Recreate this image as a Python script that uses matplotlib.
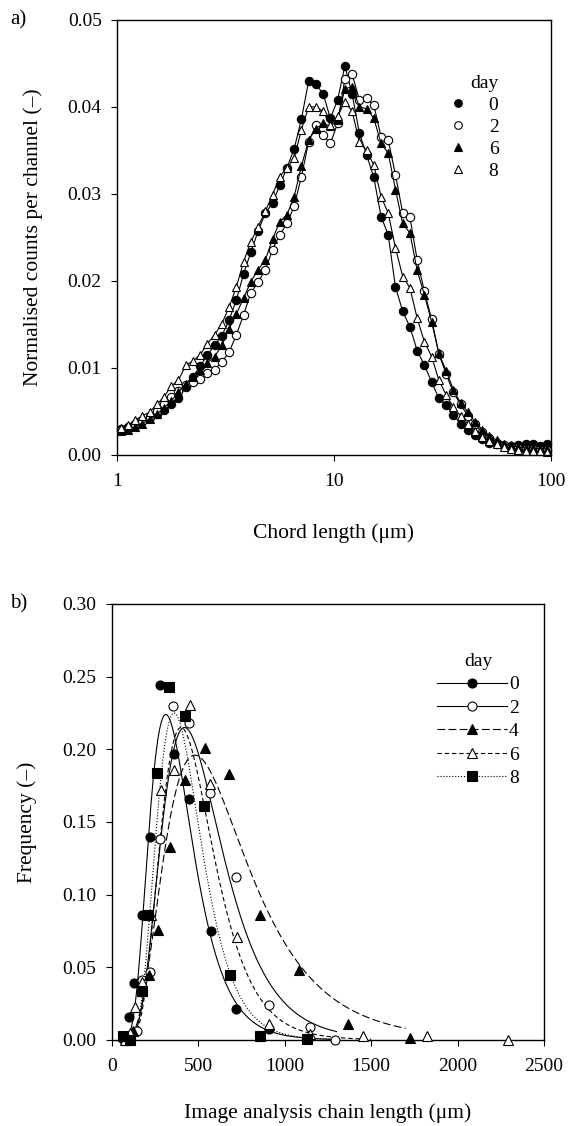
import numpy as np
import matplotlib
matplotlib.use("Agg")
import matplotlib.pyplot as plt
from matplotlib.lines import Line2D
from matplotlib.ticker import FixedLocator, FormatStrFormatter, NullLocator

plt.rcParams['font.family'] = ['Liberation Serif', 'DejaVu Serif']

# ---- panel a: FBRM chord length distributions ----
chord = [1.039, 1.122, 1.212, 1.309, 1.413, 1.526, 1.648, 1.778, 1.920, 2.074,
         2.239, 2.418, 2.610, 2.818, 3.043, 3.286, 3.548, 3.831, 4.137, 4.467,
         4.823, 5.208, 5.623, 6.072, 6.556, 7.079, 7.644, 8.254, 8.913, 9.624,
         10.39, 11.22, 12.12, 13.09, 14.13, 15.26, 16.48, 17.78, 19.20, 20.74,
         22.39, 24.18, 26.10, 28.18, 30.43, 32.86, 35.48, 38.31, 41.37, 44.67,
         48.23, 52.08, 56.23, 60.72, 65.56, 70.79, 76.44, 82.54, 89.13, 96.24]

day0_a = [0.0030, 0.0032, 0.0035, 0.0039, 0.0043, 0.0047, 0.0052, 0.0058, 0.0065, 0.0078,
          0.0090, 0.0102, 0.0115, 0.0126, 0.0137, 0.0155, 0.0178, 0.0208, 0.0233, 0.0257,
          0.0278, 0.0289, 0.0310, 0.0330, 0.0352, 0.0386, 0.0430, 0.0426, 0.0415, 0.0387,
          0.0408, 0.0447, 0.0415, 0.0370, 0.0345, 0.0319, 0.0274, 0.0253, 0.0193, 0.0165,
          0.0147, 0.0120, 0.0103, 0.0084, 0.0065, 0.0057, 0.0046, 0.0036, 0.0029, 0.0023,
          0.0018, 0.0014, 0.0012, 0.0010, 0.0010, 0.0011, 0.0012, 0.0013, 0.0010, 0.0012]

day2_a = [0.0029, 0.0031, 0.0035, 0.0039, 0.0044, 0.0050, 0.0058, 0.0066, 0.0074, 0.0080,
          0.0084, 0.0087, 0.0094, 0.0098, 0.0107, 0.0118, 0.0138, 0.0161, 0.0186, 0.0199,
          0.0212, 0.0236, 0.0253, 0.0266, 0.0286, 0.0320, 0.0360, 0.0379, 0.0368, 0.0358,
          0.0381, 0.0432, 0.0438, 0.0408, 0.0410, 0.0402, 0.0366, 0.0362, 0.0322, 0.0278,
          0.0273, 0.0224, 0.0188, 0.0156, 0.0116, 0.0093, 0.0072, 0.0058, 0.0045, 0.0035,
          0.0026, 0.0019, 0.0014, 0.0011, 0.0009, 0.0008, 0.0007, 0.0007, 0.0006, 0.0006]

day6_a = [0.0027, 0.0029, 0.0032, 0.0036, 0.0041, 0.0047, 0.0054, 0.0062, 0.0072, 0.0082,
          0.0090, 0.0098, 0.0106, 0.0113, 0.0126, 0.0145, 0.0162, 0.0180, 0.0199, 0.0213,
          0.0224, 0.0248, 0.0268, 0.0276, 0.0297, 0.0332, 0.0362, 0.0375, 0.0381, 0.0378,
          0.0385, 0.0421, 0.0423, 0.0400, 0.0398, 0.0387, 0.0358, 0.0347, 0.0305, 0.0266,
          0.0255, 0.0212, 0.0184, 0.0153, 0.0117, 0.0097, 0.0075, 0.0060, 0.0049, 0.0038,
          0.0029, 0.0022, 0.0017, 0.0013, 0.0011, 0.0009, 0.0008, 0.0008, 0.0007, 0.0007]

day8_a = [0.0031, 0.0034, 0.0040, 0.0045, 0.0049, 0.0058, 0.0067, 0.0079, 0.0086, 0.0103,
          0.0108, 0.0115, 0.0128, 0.0138, 0.0151, 0.0170, 0.0193, 0.0222, 0.0245, 0.0262,
          0.0280, 0.0299, 0.0320, 0.0330, 0.0341, 0.0374, 0.0400, 0.0400, 0.0395, 0.0379,
          0.0389, 0.0406, 0.0395, 0.0360, 0.0350, 0.0333, 0.0297, 0.0278, 0.0238, 0.0205,
          0.0192, 0.0157, 0.0130, 0.0113, 0.0086, 0.0069, 0.0055, 0.0045, 0.0036, 0.0028,
          0.0021, 0.0016, 0.0012, 0.0009, 0.0007, 0.0006, 0.0005, 0.0004, 0.0004, 0.0003]

# ---- panel b: image analysis chain length ----
x0_b = [65, 100, 130, 172, 220, 278, 359, 447, 571, 718, 910]
y0_b = [0.001, 0.016, 0.039, 0.086, 0.140, 0.2445, 0.197, 0.166, 0.075, 0.021, 0.0074]
x2_b = [85, 143, 177, 220, 278, 355, 447, 567, 718, 907, 1145, 1290]
y2_b = [0.0, 0.0064, 0.041, 0.047, 0.138, 0.2296, 0.218, 0.170, 0.112, 0.024, 0.0092, 0.0]
x4_b = [80, 125, 172, 215, 268, 336, 422, 538, 679, 857, 1084, 1368, 1724]
y4_b = [0.0, 0.006, 0.034, 0.045, 0.076, 0.133, 0.179, 0.201, 0.183, 0.086, 0.048, 0.011, 0.0011]
x6_b = [75, 104, 133, 172, 224, 282, 359, 451, 567, 722, 910, 1146, 1451, 1825, 2294]
y6_b = [0.0, 0.005, 0.023, 0.040, 0.086, 0.172, 0.186, 0.2307, 0.176, 0.071, 0.011, 0.004, 0.0028, 0.0028, 0.0]
x8_b = [62, 104, 172, 210, 262, 332, 422, 533, 681, 856, 1130]
y8_b = [0.0025, 0.0, 0.034, 0.086, 0.184, 0.243, 0.223, 0.161, 0.045, 0.003, 0.0005]

# fitted log-normal curves: peak height, mode, width, last x
fit_peak = [0.224, 0.215, 0.196, 0.215, 0.225]
fit_mode = [312, 420, 480, 400, 360]
fit_width = [0.40, 0.42, 0.50, 0.38, 0.36]
fit_end = [1300, 1300, 1700, 1500, 1300]

days_a = ['0', '2', '6', '8']
days_b = ['0', '2', '4', '6', '8']

fig = plt.figure(figsize=(5.68, 11.26), dpi=100)
ax1 = fig.add_axes([0.206, 0.596, 0.764, 0.3863])
ax2 = fig.add_axes([0.197, 0.0764, 0.7606, 0.3872])

styles_a = [('o', 'black'), ('o', 'white'), ('^', 'black'), ('^', 'white')]
series_a = [day0_a, day2_a, day6_a, day8_a]
handles = []
for (mk, fc), ys, lab in zip(styles_a, series_a, days_a):
    ax1.plot(chord, ys, color='black', lw=0.8, marker=mk, ms=6.0, mfc=fc,
             mec='black', mew=0.8, clip_on=False)
    handles.append(Line2D([], [], ls='none', marker=mk, ms=5.5, mfc=fc,
                          mec='black', mew=0.8, label=lab))

ax1.set_xscale('log')
ax1.set_xlim(1, 100)
ax1.set_ylim(0, 0.05)
ax1.xaxis.set_major_locator(FixedLocator([1, 10, 100]))
ax1.xaxis.set_minor_locator(NullLocator())
ax1.set_xticklabels(['1', '10', '100'])
ax1.set_yticks(np.arange(0, 0.051, 0.01))
ax1.yaxis.set_major_formatter(FormatStrFormatter('%.2f'))
ax1.set_xlabel('Chord length (μm)', fontsize=15.5, labelpad=24)
ax1.set_ylabel('Normalised counts per channel (–)', fontsize=15.5, labelpad=18)
leg = ax1.legend(handles=handles, title='day', loc='upper left',
                 bbox_to_anchor=(0.74, 0.895), frameon=False, fontsize=14,
                 title_fontsize=14, handlelength=1.0, handletextpad=1.1,
                 labelspacing=0.22, borderpad=0)
leg._legend_box.align = 'right'
fig.text(0.018, 0.982, 'a)', fontsize=15, va='center')

# panel b
styles_b = [('o', 'black', '-'), ('o', 'white', '-'), ('^', 'black', (0, (7, 3))),
            ('^', 'white', (0, (4, 2.5))), ('s', 'black', ':')]
xs_b = [x0_b, x2_b, x4_b, x6_b, x8_b]
ys_b = [y0_b, y2_b, y4_b, y6_b, y8_b]
handles_b = []
for i, ((mk, fc, ls), xd, yd, lab) in enumerate(zip(styles_b, xs_b, ys_b, days_b)):
    xc = np.linspace(50, fit_end[i], 400)
    yc = fit_peak[i] * np.exp(-np.log(xc / fit_mode[i]) ** 2 / (2 * fit_width[i] ** 2))
    ax2.plot(xc, yc, color='black', lw=0.8, ls=ls)
    ax2.plot(xd, yd, ls='none', marker=mk, ms=6.5, mfc=fc, mec='black', mew=0.8,
             clip_on=False, zorder=3)
    handles_b.append(Line2D([], [], color='black', lw=0.8, ls=ls, marker=mk, ms=6.5,
                            mfc=fc, mec='black', mew=0.8, label=lab))

ax2.set_xlim(0, 2500)
ax2.set_ylim(0, 0.30)
ax2.set_xticks(np.arange(0, 2501, 500))
ax2.set_yticks(np.arange(0, 0.301, 0.05))
ax2.yaxis.set_major_formatter(FormatStrFormatter('%.2f'))
ax2.set_xlabel('Image analysis chain length (μm)', fontsize=15.5, labelpad=20)
ax2.set_ylabel('Frequency (–)', fontsize=15.5, labelpad=18)
leg2 = ax2.legend(handles=handles_b, title='day', loc='upper left',
                  bbox_to_anchor=(0.73, 0.91), frameon=False, fontsize=14,
                  title_fontsize=14, handlelength=3.6, handletextpad=0.1,
                  labelspacing=0.3, borderpad=0)
fig.text(0.018, 0.4636, 'b)', fontsize=15, va='center')

for ax in (ax1, ax2):
    ax.tick_params(direction='out', length=4, width=0.8, labelsize=14, pad=7)
    ax.tick_params(axis='x', pad=9)
    ax.tick_params(top=False, right=False)
    for s in ax.spines.values():
        s.set_linewidth(1.0)

fig.savefig('out.png', dpi=100)
